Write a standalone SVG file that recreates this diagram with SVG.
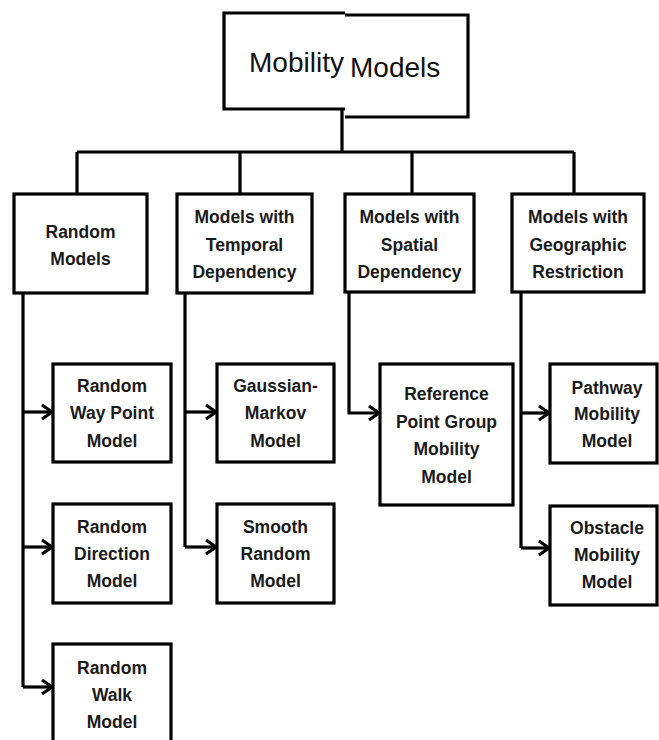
<svg xmlns="http://www.w3.org/2000/svg" width="659" height="740" viewBox="0 0 659 740">
<style>
.box{fill:#fff;stroke:#000;stroke-width:3.2}
.t{font-family:"Liberation Sans",Arial,sans-serif;font-weight:bold;font-size:17.5px;text-anchor:middle;fill:#1a1a1a}
.title{font-family:"Liberation Sans",Arial,sans-serif;font-size:28px;fill:#111}
.c{fill:none;stroke:#000;stroke-width:3.2}
</style>
<defs>
<marker id="ah" markerUnits="userSpaceOnUse" markerWidth="16" markerHeight="18" refX="13" refY="9" orient="auto">
<path d="M3,2 L13,9 L3,16" fill="none" stroke="#000" stroke-width="3.2" stroke-linejoin="miter"/>
</marker>
</defs>
<rect width="659" height="740" fill="#fff"/>
<g id="connectors">
<path class="c" d="M342,109 V152"/>
<path class="c" d="M77,152 H574"/>
<path class="c" d="M77,152 V194 M240,152 V194 M412,152 V194 M574,152 V194"/>
<path class="c" d="M23,293 V687"/>
<path class="c" d="M23,412 H52" marker-end="url(#ah)"/>
<path class="c" d="M23,547 H52" marker-end="url(#ah)"/>
<path class="c" d="M23,687 H52" marker-end="url(#ah)"/>
<path class="c" d="M185,293 V547"/>
<path class="c" d="M185,412 H216" marker-end="url(#ah)"/>
<path class="c" d="M185,547 H216" marker-end="url(#ah)"/>
<path class="c" d="M349,292 V413 H379" marker-end="url(#ah)"/>
<path class="c" d="M521,292 V548"/>
<path class="c" d="M521,413 H549" marker-end="url(#ah)"/>
<path class="c" d="M521,548 H549" marker-end="url(#ah)"/>
</g>
<g id="title">
<rect x="224" y="13" width="121" height="96" fill="#fff"/>
<rect x="345" y="15" width="123" height="102" fill="#fff"/>
<path class="c" d="M345,13 H224 V109 H345"/>
<path class="c" d="M345,15 H468 V117 H345"/>
<text class="title" x="249" y="72">Mobility</text>
<text class="title" x="350" y="77">Models</text>
</g>
<g id="random-models">
<rect class="box" x="14" y="194" width="133" height="99"/>
<text class="t" x="80.5" y="238">Random</text>
<text class="t" x="80.5" y="265">Models</text>
</g>
<g id="temporal">
<rect class="box" x="177" y="194" width="135" height="99"/>
<text class="t" x="244.5" y="223">Models with</text>
<text class="t" x="244.5" y="251">Temporal</text>
<text class="t" x="244.5" y="278">Dependency</text>
</g>
<g id="spatial">
<rect class="box" x="345" y="194" width="129" height="98"/>
<text class="t" x="409.5" y="223">Models with</text>
<text class="t" x="409.5" y="251">Spatial</text>
<text class="t" x="409.5" y="278">Dependency</text>
</g>
<g id="geographic">
<rect class="box" x="512" y="194" width="132" height="98"/>
<text class="t" x="578" y="223">Models with</text>
<text class="t" x="578" y="251">Geographic</text>
<text class="t" x="578" y="278">Restriction</text>
</g>
<g id="random-way-point">
<rect class="box" x="53" y="364" width="118" height="98"/>
<text class="t" x="112" y="392">Random</text>
<text class="t" x="112" y="419">Way Point</text>
<text class="t" x="112" y="447">Model</text>
</g>
<g id="random-direction">
<rect class="box" x="53" y="504" width="118" height="99"/>
<text class="t" x="112" y="533">Random</text>
<text class="t" x="112" y="560">Direction</text>
<text class="t" x="112" y="587">Model</text>
</g>
<g id="random-walk">
<rect class="box" x="53" y="644" width="118" height="110"/>
<text class="t" x="112" y="674">Random</text>
<text class="t" x="112" y="701">Walk</text>
<text class="t" x="112" y="728">Model</text>
</g>
<g id="gaussian-markov">
<rect class="box" x="217" y="364" width="117" height="98"/>
<text class="t" x="275.5" y="392">Gaussian-</text>
<text class="t" x="275.5" y="419">Markov</text>
<text class="t" x="275.5" y="447">Model</text>
</g>
<g id="smooth-random">
<rect class="box" x="217" y="504" width="117" height="99"/>
<text class="t" x="275.5" y="533">Smooth</text>
<text class="t" x="275.5" y="560">Random</text>
<text class="t" x="275.5" y="587">Model</text>
</g>
<g id="reference-point-group">
<rect class="box" x="380" y="364" width="133" height="141"/>
<text class="t" x="446.5" y="400">Reference</text>
<text class="t" x="446.5" y="428">Point Group</text>
<text class="t" x="446.5" y="455">Mobility</text>
<text class="t" x="446.5" y="483">Model</text>
</g>
<g id="pathway">
<rect class="box" x="550" y="364" width="107" height="99"/>
<text class="t" x="607" y="394">Pathway</text>
<text class="t" x="607" y="420">Mobility</text>
<text class="t" x="607" y="447">Model</text>
</g>
<g id="obstacle">
<rect class="box" x="550" y="506" width="107" height="99"/>
<text class="t" x="607" y="534">Obstacle</text>
<text class="t" x="607" y="561">Mobility</text>
<text class="t" x="607" y="588">Model</text>
</g>
</svg>
